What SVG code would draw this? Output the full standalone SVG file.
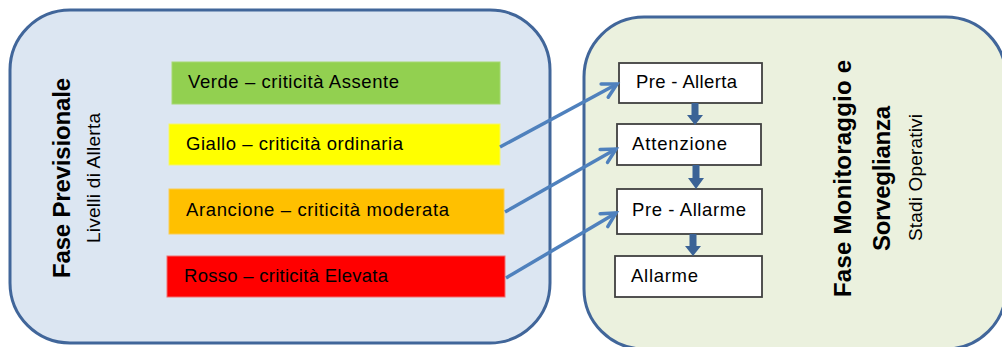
<svg xmlns="http://www.w3.org/2000/svg" width="1002" height="347" viewBox="0 0 1002 347">
  <style>
    text { font-family: "Liberation Sans", Arial, sans-serif; fill: #000; }
    .title { font-size: 24px; font-weight: bold; }
    .sub { font-size: 19px; }
    .bar-text { font-size: 18.5px; }
    .box-text { font-size: 18.5px; }
    .panel { stroke: #41669a; stroke-width: 3; }
    .bar { stroke-width: 1; }
    .box { fill: #ffffff; stroke: #404040; stroke-width: 1.8; }
    .link { stroke: #4f81bd; stroke-width: 3.5; fill: none; marker-end: url(#openArrow); }
    .down { fill: #3b6396; }
  </style>
  <defs>
    <marker id="openArrow" markerUnits="userSpaceOnUse" markerWidth="30" markerHeight="30" viewBox="-20 -15 30 30" refX="0" refY="0" orient="auto" overflow="visible">
      <path d="M -14 -7.5 L 0 0 L -14 7.5" fill="none" stroke="#4f81bd" stroke-width="3.5" stroke-linejoin="miter" stroke-linecap="round"/>
    </marker>
  </defs>

  <g id="panel-previsionale">
    <rect class="panel" x="10" y="10" width="540" height="333" rx="60" ry="60" fill="#dce6f2"/>
    <text class="title" text-anchor="middle" transform="translate(70,178) rotate(-90)" textLength="200">Fase Previsionale</text>
    <text class="sub" text-anchor="middle" transform="translate(100,178) rotate(-90)" textLength="130">Livelli di Allerta</text>
  </g>

  <g id="panel-monitoraggio">
    <rect class="panel" x="584" y="17" width="422" height="332" rx="60" ry="60" fill="#ebf1de"/>
    <text class="title" text-anchor="middle" transform="translate(851,178.5) rotate(-90)" textLength="237">Fase Monitoraggio e</text>
    <text class="title" text-anchor="middle" transform="translate(890,178.5) rotate(-90)" textLength="145">Sorveglianza</text>
    <text class="sub" text-anchor="middle" transform="translate(922,177.5) rotate(-90)" textLength="127">Stadi Operativi</text>
  </g>

  <g id="bar-verde">
    <rect class="bar" x="172" y="62" width="328" height="42" fill="#92d050" stroke="#a6d873"/>
    <text class="bar-text" x="188" y="88" textLength="211">Verde – criticità Assente</text>
  </g>
  <g id="bar-giallo">
    <rect class="bar" x="169" y="124" width="331" height="41" fill="#ffff00" stroke="#f5f56a"/>
    <text class="bar-text" x="186" y="150" textLength="217">Giallo – criticità ordinaria</text>
  </g>
  <g id="bar-arancione">
    <rect class="bar" x="169" y="189" width="335" height="45" fill="#ffc000" stroke="#f9cc55"/>
    <text class="bar-text" x="186" y="216" textLength="263">Arancione – criticità moderata</text>
  </g>
  <g id="bar-rosso">
    <rect class="bar" x="167" y="256" width="338" height="41" fill="#ff0000" stroke="#f07070"/>
    <text class="bar-text" x="184" y="282" textLength="204">Rosso – criticità Elevata</text>
  </g>

  <g id="box-pre-allerta">
    <rect class="box" x="619" y="63" width="143" height="40"/>
    <text class="box-text" x="636" y="88" textLength="101">Pre - Allerta</text>
  </g>
  <g id="box-attenzione">
    <rect class="box" x="617" y="124" width="144" height="41"/>
    <text class="box-text" x="632" y="150" textLength="95">Attenzione</text>
  </g>
  <g id="box-pre-allarme">
    <rect class="box" x="617" y="189" width="145" height="45"/>
    <text class="box-text" x="632" y="216" textLength="114">Pre - Allarme</text>
  </g>
  <g id="box-allarme">
    <rect class="box" x="615" y="256" width="147" height="41"/>
    <text class="box-text" x="631" y="282" textLength="67">Allarme</text>
  </g>

  <g id="connectors">
    <line class="link" x1="500" y1="147" x2="617" y2="84"/>
    <line class="link" x1="505" y1="212" x2="616" y2="149"/>
    <line class="link" x1="506" y1="278" x2="616" y2="213"/>
    <path class="down" d="M691.5 103 H698.5 V115 H703 L695 125 L687 115 H691.5 Z"/>
    <path class="down" d="M692.5 165 H699.5 V178 H704 L696 189 L688 178 H692.5 Z"/>
    <path class="down" d="M689.5 234 H696.5 V246 H701 L693 256 L685 246 H689.5 Z"/>
  </g>
</svg>
